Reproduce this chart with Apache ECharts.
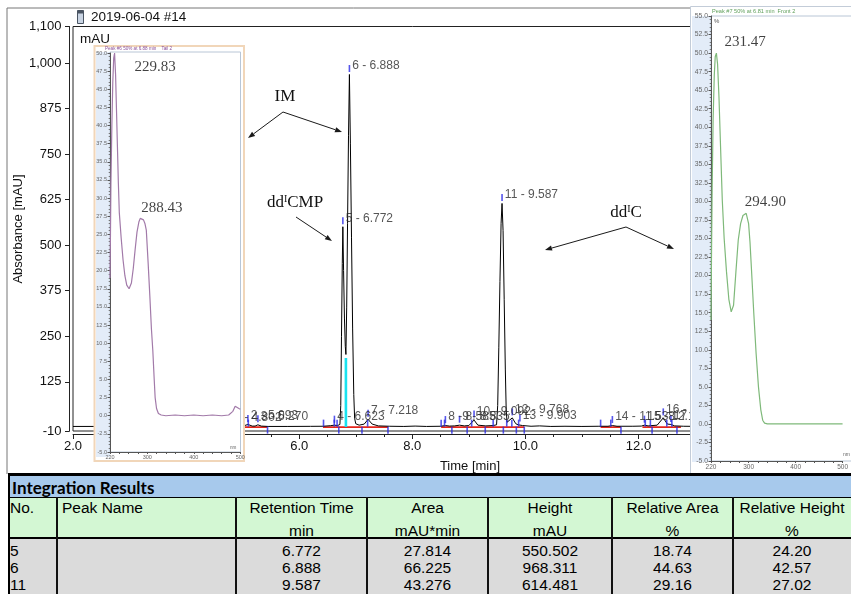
<!DOCTYPE html>
<html>
<head>
<meta charset="utf-8">
<title>2019-06-04 #14</title>
<script src="https://cdn.jsdelivr.net/npm/echarts@6.0.0/dist/echarts.min.js"></script>
<style>
  html, body { margin: 0; padding: 0; background: #fff; }
  #page { position: relative; width: 851px; height: 594px; overflow: hidden; font-family: 'Liberation Sans', Arial, sans-serif; }
  #chart { position: absolute; left: 0; top: 0; width: 851px; height: 594px; }
  #results { position: absolute; left: 0; top: 0; width: 851px; height: 594px; pointer-events: none; }
  .blk { position: absolute; }
  .txt { position: absolute; white-space: nowrap; font-size: 15.5px; line-height: 18px; color: #000; }
</style>
</head>
<body>
<div id="page">
  <div id="chart"></div>
  <div id="results"></div>
</div>
<script>
// ---------------- chromatogram (time [min], absorbance [mAU]) ----------------
const trace = [
  [2.0, 2.5], [3.0, 2.6], [4.0, 2.4], [4.6, 2.6], [4.75, 2.4], [4.802, 2], [4.86, 2.5], [5.0, 3],
  [5.093, 8], [5.17, 3.5], [5.22, 3.5], [5.27, 7], [5.33, 3.5], [5.45, 2.5], [5.8, 2.5], [6.2, 2.8],
  [6.42, 3], [6.55, 4.5], [6.623, 6], [6.68, 5], [6.72, 8], [6.735, 60], [6.748, 250], [6.762, 450],
  [6.772, 550.502], [6.785, 430], [6.8, 300], [6.815, 222], [6.826, 200], [6.84, 330], [6.855, 560],
  [6.872, 800], [6.888, 968.311], [6.905, 780], [6.925, 520], [6.945, 270], [6.965, 90], [6.98, 25],
  [7.0, 10], [7.06, 6], [7.15, 9], [7.218, 22], [7.29, 9], [7.4, 4], [7.6, 3], [7.85, 2.5], [8.05, 3.5],
  [8.25, 2.5], [8.5, 3], [8.585, 5], [8.66, 3.5], [8.75, 4], [8.835, 6], [8.92, 4], [9.0, 5], [9.092, 20],
  [9.16, 6], [9.3, 4], [9.43, 5], [9.49, 7], [9.51, 60], [9.53, 220], [9.55, 400], [9.57, 560],
  [9.587, 614.481], [9.605, 540], [9.625, 350], [9.645, 160], [9.66, 50], [9.675, 14], [9.7, 10],
  [9.768, 26], [9.83, 10], [9.87, 7], [9.903, 9], [9.95, 5], [10.1, 3], [10.25, 4], [10.45, 2.5],
  [10.7, 3], [11.0, 2.5], [11.3, 3], [11.46, 3], [11.538, 5], [11.62, 3], [11.9, 3], [12.05, 3.5],
  [12.105, 6], [12.17, 4], [12.33, 6], [12.438, 26], [12.51, 9], [12.573, 8], [12.64, 4], [12.8, 3],
  [13.2, 2.5], [14.0, 2.5]
];

// detected peaks: number, retention time, apex height
const peakNo   = [1, 2, 3, 4, 5, 6, 7, 8, 9, 10, 11, 12, 13, 14, 15, 16, 17];
const peakRT   = [4.802, 5.093, 5.270, 6.623, 6.772, 6.888, 7.218, 8.585, 8.835, 9.092, 9.587, 9.768, 9.903, 11.538, 12.105, 12.438, 12.573];
const peakApex = [2, 8, 7, 6, 550.502, 968.311, 22, 5, 6, 20, 614.481, 26, 9, 5, 6, 26, 8];

// integration baselines and peak delimiters
const baselineSegments = [[4.70, 5.43], [6.42, 7.57], [8.51, 9.98], [11.33, 11.69], [12.07, 12.75]];
const peakStartMarks = [5.10, 6.43, 6.62, 6.67, 7.21, 8.51, 8.57, 9.05, 9.43, 9.67, 9.76, 9.88, 11.33, 11.51, 12.12, 12.21, 12.50, 12.59];
const peakEndMarks   = [5.44, 6.70, 7.11, 7.57, 8.70, 8.97, 9.29, 9.61, 9.84, 9.98, 11.69, 12.24, 12.68];
const valleyDrop = [6.826, 190];

// axis ticks
const absMajorTicks = [-10, 125, 250, 375, 500, 625, 750, 875, 1000, 1100];
const absMinorTicks = [0, 25, 50, 75, 100, 150, 175, 200, 225, 275, 300, 325, 350, 400, 425, 450, 475,
  525, 550, 575, 600, 650, 675, 700, 725, 775, 800, 825, 850, 900, 925, 950, 975, 1025, 1050, 1075];
const nmLabels = [220, 300, 400, 500];

// ---------------- UV spectra (wavelength [nm], relative [%]) ----------------
const spectrumIM = [
  [220, 19], [221, 25], [222, 32], [224, 40], [226, 46], [228, 49.3], [229.83, 50.0], [232, 47],
  [234, 42], [236, 37], [238, 32], [240, 28], [244, 24.5], [248, 21.5], [252, 19.3], [256, 18.0],
  [261, 17.5], [266, 18.3], [270, 20.3], [274, 22.9], [278, 25.3], [282, 26.7], [285, 27.2],
  [288.43, 27.3], [292, 27.0], [295, 26.5], [298, 25.6], [302, 21], [306, 16], [309, 12], [312, 9],
  [315, 5], [317, 2.5], [320, 1.0], [324, 0.3], [330, 0.1], [340, 0], [360, 0.1], [380, 0], [400, 0.1],
  [420, 0], [440, 0.1], [460, 0], [475, 0.1], [484, 0.6], [489, 1.3], [493, 1.4], [497, 1.0], [500, 0.9]
];
const spectrumIMPeaks = [[229.83, 50.0], [288.43, 27.3]];

const spectrumC = [
  [220, 14], [221, 22], [222.5, 32], [224.5, 41], [227, 47], [229, 49.5], [231.47, 50.0], [234, 48.5],
  [237, 44], [240, 38], [244, 30.2], [248, 25], [253, 20.5], [258, 16.8], [263, 15.1], [268, 16],
  [273, 20.5], [278, 24.8], [283, 27], [288, 28.1], [294.90, 28.4], [300, 27], [303, 24.5], [306, 21],
  [311, 15], [316, 9.5], [321, 5], [326, 1.9], [330, 0.5], [334, 0.1], [340, 0], [400, 0], [450, 0], [500, 0]
];
const spectrumCPeaks = [[231.47, 50.0], [294.90, 28.4]];

// ---------------- integration results table ----------------
const resNo        = ['5', '6', '11'];
const resName      = ['', '', ''];
const resRT        = [6.772, 6.888, 9.587];
const resArea      = [27.814, 66.225, 43.276];
const resHeight    = [550.502, 968.311, 614.481];
const resRelArea   = [18.74, 44.63, 29.16];
const resRelHeight = [24.20, 42.57, 27.02];
const resHeaders   = ['No.', 'Peak Name', 'Retention Time', 'Area', 'Height', 'Relative Area', 'Relative Height'];
const resUnits     = ['', '', 'min', 'mAU*min', 'mAU', '%', '%'];

// ============================================================================
const SANS = "'Liberation Sans', Arial, sans-serif";
const SERIF = "'Liberation Serif', 'Times New Roman', serif";
const INK = '#1a1a1a';

function arrow(x1, y1, x2, y2) {
  const L = 7, W = 2.6;
  const dx = x2 - x1, dy = y2 - y1, d = Math.hypot(dx, dy);
  const ux = dx / d, uy = dy / d;
  const bx = x2 - ux * L, by = y2 - uy * L;
  return [
    { type: 'line', shape: { x1: x1, y1: y1, x2: bx, y2: by }, style: { stroke: INK, lineWidth: 1 } },
    { type: 'polygon', shape: { points: [[x2, y2], [bx - uy * W, by + ux * W], [bx + uy * W, by - ux * W]] }, style: { fill: INK } }
  ];
}

function gtext(x, y, text, font, fill, align, extra) {
  return Object.assign({
    type: 'text', x: x, y: y,
    style: { text: text, font: font, fill: fill || INK, align: align || 'left', verticalAlign: 'middle',
             textAlign: align || 'left', textVerticalAlign: 'middle' }
  }, extra || {});
}

function insetYAxis(gridIndex, min, max, fontSize) {
  return {
    gridIndex: gridIndex, type: 'value', min: min, max: max, interval: 2.5, z: 10,
    axisLine: { show: true, lineStyle: { color: '#555', width: 1 } },
    axisTick: { show: true, length: 2.5, lineStyle: { color: '#555' } },
    minorTick: { show: true, splitNumber: 5, length: 1.3, lineStyle: { color: '#777' } },
    axisLabel: { fontFamily: SANS, fontSize: fontSize, color: '#666', margin: 3, formatter: v => v.toFixed(1) },
    splitLine: { show: false }
  };
}
function insetXAxis(gridIndex, fontSize) {
  return {
    gridIndex: gridIndex, type: 'value', min: 220, max: 500, interval: 20, z: 10,
    axisLine: { show: true, onZero: false, lineStyle: { color: '#555', width: 1 } },
    axisTick: { show: true, length: 2, lineStyle: { color: '#555' } },
    axisLabel: { customValues: nmLabels, fontFamily: SANS, fontSize: fontSize, color: '#666', margin: 2.5 },
    splitLine: { show: false }
  };
}

const baselineSeries = baselineSegments.map(seg => ({
  type: 'line', xAxisIndex: 0, yAxisIndex: 0, z: 2, silent: true, showSymbol: false,
  data: [[seg[0], 0.5], [seg[1], 0.5]],
  lineStyle: { color: '#e5261c', width: 1.6 }
}));

const option = {
  animation: false,
  backgroundColor: '#fff',
  grid: [
    { left: 73, top: 26.5, width: 678.6, height: 404.5, show: true, borderColor: '#222', borderWidth: 1, backgroundColor: 'transparent' },
    { left: 110, top: 53, width: 130.3, height: 399 },
    { left: 711, top: 16, width: 142.8, height: 445 }
  ],
  xAxis: [
    {
      gridIndex: 0, type: 'value', min: 2, max: 14, interval: 2, offset: 3,
      axisLine: { show: true, onZero: false, lineStyle: { color: '#222', width: 1 } },
      axisTick: { show: true, length: 5, lineStyle: { color: '#222' } },
      minorTick: { show: true, splitNumber: 4, length: 3, lineStyle: { color: '#222' } },
      axisLabel: { fontFamily: SANS, fontSize: 13, color: '#111', margin: 6, formatter: v => v.toFixed(1) },
      splitLine: { show: false }
    },
    insetXAxis(1, 5.5),
    insetXAxis(2, 6.5)
  ],
  yAxis: [
    {
      gridIndex: 0, type: 'value', min: -10, max: 1100, offset: 3.5,
      axisLine: { show: true, lineStyle: { color: '#222', width: 1 } },
      axisTick: { show: true, customValues: absMajorTicks, length: 4.5, lineStyle: { color: '#222' } },
      axisLabel: { customValues: absMajorTicks, fontFamily: SANS, fontSize: 13, color: '#111', margin: 8,
                   formatter: v => v.toLocaleString('en-US') },
      splitLine: { show: false }
    },
    {
      gridIndex: 0, type: 'value', min: -10, max: 1100, offset: 3.5,
      axisLine: { show: false },
      axisTick: { show: true, customValues: absMinorTicks, length: 2.5, lineStyle: { color: '#222' } },
      axisLabel: { show: false },
      splitLine: { show: false }
    },
    insetYAxis(1, -5, 50, 5.5),
    insetYAxis(2, -5, 55, 6.8)
  ],
  series: [
    ...baselineSeries,
    {
      type: 'line', xAxisIndex: 0, yAxisIndex: 0, z: 2, silent: true, showSymbol: false,
      data: [valleyDrop, [valleyDrop[0], 1]],
      lineStyle: { color: '#19e3f0', width: 2.6 }
    },
    {
      name: 'Absorbance', type: 'line', xAxisIndex: 0, yAxisIndex: 0, z: 3, showSymbol: false, silent: true,
      data: trace, lineStyle: { color: '#000', width: 1 }
    },
    {
      type: 'scatter', xAxisIndex: 0, yAxisIndex: 0, z: 4, silent: true,
      data: peakStartMarks.map(t => [t, 2]),
      symbol: 'rect', symbolSize: [1.6, 7], symbolOffset: [0, -3.5],
      itemStyle: { color: '#2a2ae6' }
    },
    {
      type: 'scatter', xAxisIndex: 0, yAxisIndex: 0, z: 4, silent: true,
      data: peakEndMarks.map(t => [t, 2]),
      symbol: 'rect', symbolSize: [1.6, 7], symbolOffset: [0, 3.5],
      itemStyle: { color: '#2a2ae6' }
    },
    {
      type: 'scatter', xAxisIndex: 0, yAxisIndex: 0, z: 4, silent: true,
      data: peakRT.map((t, i) => [t, peakApex[i]]),
      symbol: 'rect', symbolSize: [1.6, 7], symbolOffset: [0, -6],
      itemStyle: { color: '#2a2ae6' },
      label: {
        show: true, position: 'right', distance: 2, offset: [0, -2.5],
        fontFamily: SANS, fontSize: 12, color: '#2b2b2b',
        formatter: p => peakNo[p.dataIndex] + ' - ' + peakRT[p.dataIndex].toFixed(3)
      }
    },
    {
      type: 'line', xAxisIndex: 1, yAxisIndex: 2, z: 10, showSymbol: false, silent: true,
      data: spectrumIM, lineStyle: { color: '#a27aa9', width: 1.2 }
    },
    {
      type: 'scatter', xAxisIndex: 1, yAxisIndex: 2, z: 11, silent: true, symbolSize: 0,
      data: [
        { value: spectrumIMPeaks[0], label: { position: [20, 14] } },
        { value: spectrumIMPeaks[1], label: { position: [-0.5, -10] } }
      ],
      label: { show: true, align: 'left', verticalAlign: 'middle', fontFamily: SERIF, fontSize: 15, color: '#111',
               formatter: p => p.value[0].toFixed(2) }
    },
    {
      type: 'line', xAxisIndex: 2, yAxisIndex: 3, z: 10, showSymbol: false, silent: true,
      data: spectrumC, lineStyle: { color: '#7fb97a', width: 1.2 }
    },
    {
      type: 'scatter', xAxisIndex: 2, yAxisIndex: 3, z: 11, silent: true, symbolSize: 0,
      data: [
        { value: spectrumCPeaks[0], label: { position: [8, -11] } },
        { value: spectrumCPeaks[1], label: { position: [-1.5, -11] } }
      ],
      label: { show: true, align: 'left', verticalAlign: 'middle', fontFamily: SERIF, fontSize: 15, color: '#111',
               formatter: p => p.value[0].toFixed(2) }
    }
  ],
  graphic: {
    elements: [
      // panel border
      { type: 'line', shape: { x1: 7, y1: 8, x2: 700, y2: 8 }, style: { stroke: '#777', lineWidth: 1 } },
      { type: 'line', shape: { x1: 7, y1: 8, x2: 7, y2: 474 }, style: { stroke: '#777', lineWidth: 1 } },
      // title bar
      { type: 'rect', shape: { x: 77.5, y: 10.5, width: 6, height: 13 }, style: { fill: '#c9d4e3', stroke: '#4a5563', lineWidth: 1 } },
      { type: 'rect', shape: { x: 77.5, y: 10.5, width: 6, height: 3 }, style: { fill: '#4a5563' } },
      gtext(91, 17, '2019-06-04 #14', '13.5px ' + SANS, '#111'),
      gtext(80, 39, 'mAU', '13.5px ' + SANS, '#111'),
      gtext(18, 229, 'Absorbance [mAU]', '13px ' + SANS, '#111', 'center', { rotation: Math.PI / 2 }),
      gtext(470, 466, 'Time [min]', '13px ' + SANS, '#111', 'center'),
      // compound annotations
      gtext(285, 97, 'IM', '17px ' + SERIF, '#111', 'center'),
      ...arrow(283, 112, 248, 138),
      ...arrow(283, 112, 342, 132),
      {
        type: 'text', x: 295, y: 203,
        style: {
          text: '{b|dd}{s|I}{b|CMP}', align: 'center', verticalAlign: 'middle', textAlign: 'center', textVerticalAlign: 'middle',
          rich: { b: { font: '17px ' + SERIF, fill: '#111', verticalAlign: 'bottom' },
                  s: { font: '10px ' + SERIF, fill: '#111', verticalAlign: 'top' } }
        }
      },
      ...arrow(296, 217, 332, 241),
      {
        type: 'text', x: 626, y: 213,
        style: {
          text: '{b|dd}{s|I}{b|C}', align: 'center', verticalAlign: 'middle', textAlign: 'center', textVerticalAlign: 'middle',
          rich: { b: { font: '17px ' + SERIF, fill: '#111', verticalAlign: 'bottom' },
                  s: { font: '10px ' + SERIF, fill: '#111', verticalAlign: 'top' } }
        }
      },
      ...arrow(626, 227, 545, 250),
      ...arrow(626, 227, 674, 249),
      // left spectrum panel (IM)
      { type: 'rect', z: 5, shape: { x: 94.5, y: 46, width: 149.5, height: 415 }, style: { fill: '#fff', stroke: '#f1d6b9', lineWidth: 2 } },
      { type: 'rect', z: 5, shape: { x: 96, y: 52, width: 14, height: 405 }, style: { fill: '#e3ecf8' } },
      { type: 'rect', z: 5, shape: { x: 110, y: 52, width: 130.5, height: 400 }, style: { fill: '#fff', stroke: '#b9c6d6', lineWidth: 1 } },
      gtext(105, 48.8, 'Peak #6 50% at 6.88 min    Tail 2', '4.6px ' + SANS, '#8a4f9a', 'left', { z: 6 }),
      gtext(230, 448, 'nm', '4.6px ' + SANS, '#666', 'left', { z: 11 }),
      // right spectrum panel (ddIC)
      { type: 'rect', z: 5, shape: { x: 690.5, y: 6.5, width: 170, height: 467 }, style: { fill: '#fff', stroke: '#c3ccd8', lineWidth: 1 } },
      { type: 'rect', z: 5, shape: { x: 692, y: 16, width: 19, height: 446 }, style: { fill: '#e3ecf8' } },
      { type: 'rect', z: 5, shape: { x: 711, y: 16, width: 150, height: 445 }, style: { fill: '#fff', stroke: '#b9c6d6', lineWidth: 1 } },
      gtext(712, 11.5, 'Peak #7 50% at 6.81 min  Front 2', '5.6px ' + SANS, '#5f9f5a', 'left', { z: 6 }),
      gtext(714, 21.5, '%', '6px ' + SANS, '#555', 'left', { z: 11 }),
      gtext(843, 455, 'nm', '5px ' + SANS, '#666', 'left', { z: 11 })
    ]
  }
};

const chart = echarts.init(document.getElementById('chart'), null, { renderer: 'canvas' });
chart.setOption(option);

// ---------------- integration results table (HTML) ----------------
(function buildTable() {
  const host = document.getElementById('results');
  const edges = [9, 57, 236, 367, 488, 612, 733, 851];
  const add = (cls, css, text) => {
    const d = document.createElement('div');
    d.className = cls;
    Object.assign(d.style, css);
    if (text !== undefined) d.textContent = text;
    host.appendChild(d);
    return d;
  };
  // row bands
  add('blk', { left: '9px', top: '473px', width: '842px', height: '2.5px', background: '#000' });
  add('blk', { left: '9px', top: '475.5px', width: '842px', height: '21.5px', background: '#a7c9ec' });
  add('blk', { left: '9px', top: '497px', width: '842px', height: '1px', background: '#000' });
  add('blk', { left: '9px', top: '498px', width: '842px', height: '39px', background: '#d3f7d3' });
  add('blk', { left: '9px', top: '537px', width: '842px', height: '1.5px', background: '#000' });
  add('blk', { left: '9px', top: '538.5px', width: '842px', height: '60px', background: '#dbdbdb' });
  // column rules
  add('blk', { left: '8px', top: '473px', width: '2px', height: '125px', background: '#000' });
  edges.slice(1, -1).forEach(x => {
    add('blk', { left: (x - 0.75) + 'px', top: '497px', width: '1.5px', height: '100px', background: '#111' });
  });
  // title
  add('txt', { left: '12px', top: '476.5px', lineHeight: '21px', fontFamily: "Lato, 'Open Sans', sans-serif",
               fontWeight: 'bold', fontSize: '17px' }, 'Integration Results');
  // headers
  const cell = (col, yCenter, text) => {
    const left = edges[col], right = edges[col + 1];
    if (col < 2) {
      add('txt', { left: (left + (col === 0 ? 1 : 5)) + 'px', top: (yCenter - 9) + 'px' }, text);
    } else {
      add('txt', { left: left + 'px', width: (right - left) + 'px', textAlign: 'center', top: (yCenter - 9) + 'px' }, text);
    }
  };
  resHeaders.forEach((h, c) => cell(c, 508, h));
  resUnits.forEach((u, c) => { if (u) cell(c, 531, u); });
  // data rows
  const rowY = [551, 568, 585];
  resNo.forEach((n, r) => {
    const vals = [n, resName[r], resRT[r].toFixed(3), resArea[r].toFixed(3), resHeight[r].toFixed(3),
                  resRelArea[r].toFixed(2), resRelHeight[r].toFixed(2)];
    vals.forEach((v, c) => { if (v) cell(c, rowY[r], v); });
  });
})();
</script>
</body>
</html>
